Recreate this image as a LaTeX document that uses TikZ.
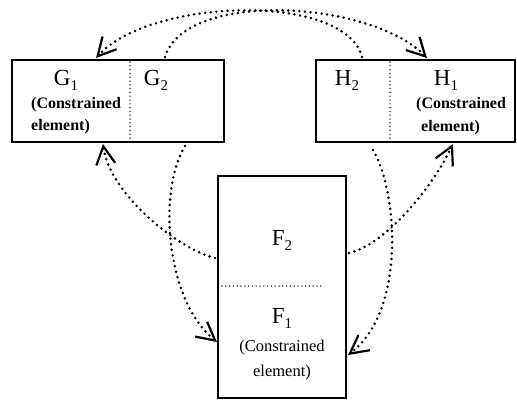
\documentclass[tikz,border=0pt]{standalone}
\usepackage{fontspec}
\setmainfont{Liberation Serif}
\usetikzlibrary{arrows.meta}
\newcommand{\lbl}[2]{#1\raisebox{-0.22em}{\fontsize{15}{15}\selectfont #2}}
\tikzset{
  box/.style={draw, line width=2pt, inner sep=0pt, outer sep=0pt},
  divider/.style={line width=1.5pt, dash pattern=on 0pt off 3.8pt, line cap=round},
  link/.style={line width=2.8pt, dash pattern=on 0pt off 5.6pt, line cap=round,
    -{Straight Barb[length=18pt,width=19pt,line width=2.2pt]}},
  big/.style={inner sep=0pt, font=\fontsize{23}{26}\selectfont},
  small/.style={inner sep=0pt, font=\fontsize{16}{20}\selectfont\bfseries},
  smallf/.style={inner sep=0pt, font=\fontsize{16.5}{20}\selectfont},
}
\begin{document}
\begin{tikzpicture}[x=1pt,y=-1pt]
\useasboundingbox (0,0) rectangle (517,400);
% boxes
\node[box, minimum width=212pt, minimum height=82pt] (G) at (118,101) {};
\node[box, minimum width=199pt, minimum height=82pt] (H) at (415.5,101) {};
\node[box, minimum width=128pt, minimum height=222pt] (F) at (282,287) {};
% dividers
\draw[divider] (130,62) -- (130,141);
\draw[divider] (390,62) -- (390,141);
\draw[divider] (222,286) -- (324,286);
% texts
\node[big] (g1) at (66,80) {\lbl{G}{1}};
\node[big] (g2) at (156,80) {\lbl{G}{2}};
\node[small, anchor=west] (gc1) at (31,105) {(Constrained};
\node[small, anchor=west] (gc2) at (31,127) {element)};
\node[big] (h2) at (347,80) {\lbl{H}{2}};
\node[big] (h1) at (446,80) {\lbl{H}{1}};
\node[small, anchor=west] (hc1) at (416,105) {(Constrained};
\node[small, anchor=west] (hc2) at (421,128) {element)};
\node[big] (f2) at (282,240) {\lbl{F}{2}};
\node[big] (f1) at (282,318) {\lbl{F}{1}};
\node[smallf] (fc1) at (282,348) {(Constrained};
\node[smallf] (fc2) at (282,373) {element)};
% connector end points
\coordinate (aS) at (165,57);
\coordinate (aE) at (427,58);
\coordinate (bS) at (362,57);
\coordinate (bE) at (96,58);
\coordinate (cS) at (185,146);
\coordinate (cE) at (217,342);
\coordinate (dS) at (215,258);
\coordinate (dE) at (103,144);
\coordinate (eS) at (373,150);
\coordinate (eE) at (348,355);
\coordinate (fS) at (349,253);
\coordinate (fE) at (453,144);
% connectors
\draw[link] (aS) .. controls (185,-10) and (370,0) .. (aE);
\draw[link] (bS) .. controls (345,-8) and (150,-2) .. (bE);
\draw[link] (cS) .. controls (158,190) and (165,300) .. (cE);
\draw[link] (dS) .. controls (180,250) and (110,195) .. (dE);
\draw[link] (eS) .. controls (397,190) and (407,310) .. (eE);
\draw[link] (fS) .. controls (385,245) and (432,188) .. (fE);
\end{tikzpicture}
\end{document}
